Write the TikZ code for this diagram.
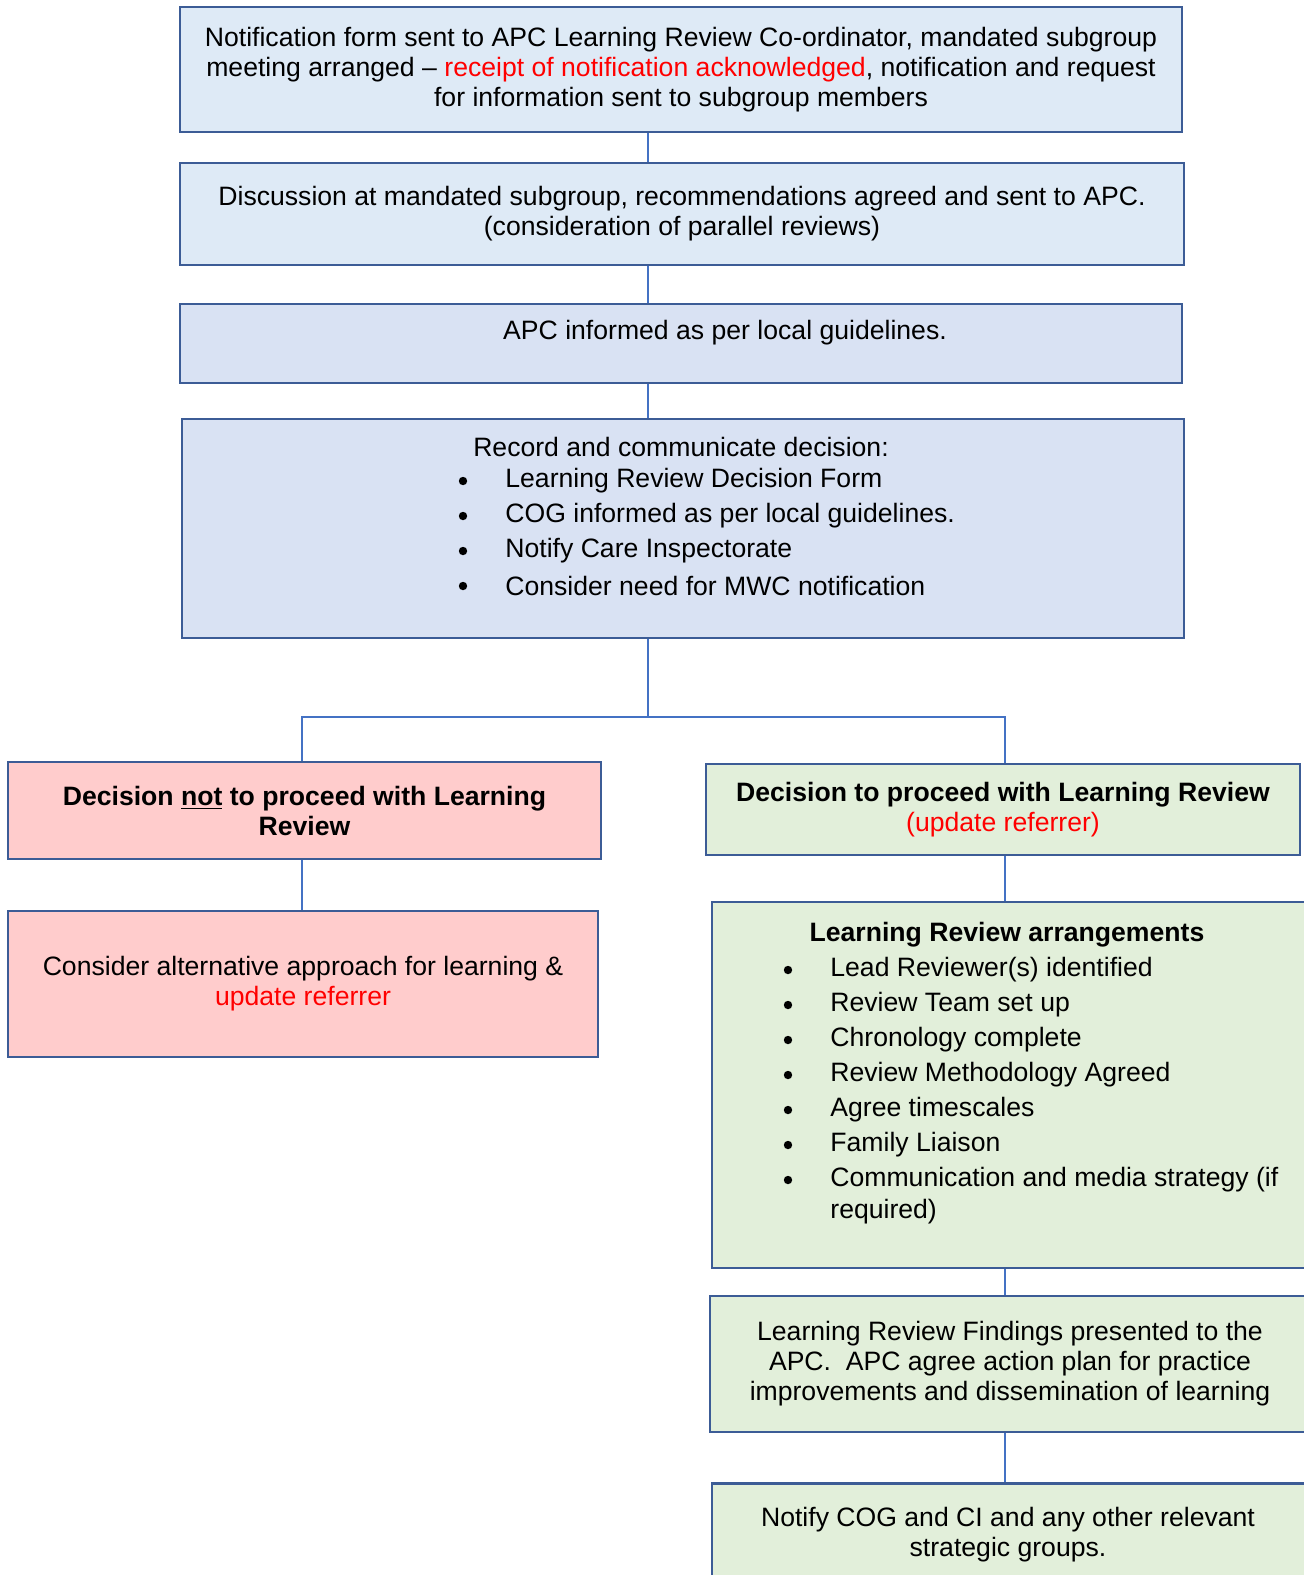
\documentclass[tikz,border=0pt]{standalone}
\usepackage{fontspec}
\setmainfont{Liberation Sans}
\usepackage{xcolor}
\usepackage{tikz}
\usetikzlibrary{positioning,calc}
\definecolor{boxline}{HTML}{3C5C96}
\definecolor{linkblue}{HTML}{4472C4}
\definecolor{paleblue}{HTML}{DEEAF6}
\definecolor{lavender}{HTML}{D9E2F3}
\definecolor{rose}{HTML}{FFCCCC}
\definecolor{palegreen}{HTML}{E2EFDA}
\definecolor{alert}{HTML}{FF0000}

\begin{document}
\begin{tikzpicture}[x=0.5pt,y=-0.5pt,font=\fontsize{13.3}{15}\selectfont,
  box/.style={draw=boxline,line width=1.4pt,rectangle,align=center,inner sep=0pt},
  item/.style={anchor=west,inner sep=0pt},
  dot/.style={circle,fill=black,inner sep=0pt,minimum size=4.2pt},
  joint/.style={draw=linkblue,line width=1.4pt}]
  \useasboundingbox (0,0) rectangle (1303,1575);
  % top column
  \node[box,fill=paleblue,minimum width=501pt,minimum height=62.5pt] (notif) at (681,69.5)
    {Notification form sent to APC Learning Review Co-ordinator, mandated subgroup\\
     meeting arranged – \textcolor{alert}{receipt of notification acknowledged}, notification and request\\
     for information sent to subgroup members};
  \node[box,fill=paleblue,minimum width=502pt,minimum height=51pt] (discuss) at (682,214)
    {Discussion at mandated subgroup, recommendations agreed and sent to APC.\\
     (consideration of parallel reviews)};
  \node[box,fill=lavender,minimum width=501pt,minimum height=39.5pt] (inform) at (681,343.5) {};
  \node (informtxt) at (725,333) {APC informed as per local guidelines.};
  \node[box,fill=lavender,minimum width=501pt,minimum height=109.5pt] (record) at (683,528.5) {};
  \node (recordtxt) at (681,447) {Record and communicate decision:};
  \foreach \y/\t [count=\i] in {481/Learning Review Decision Form,516/COG informed as per local guidelines.,
      551/Notify Care Inspectorate,586/Consider need for MWC notification}{
    \node[dot] (rdot\i) at (463,\y) {};
    \node[item] (ritem\i) at (505,\y) {\t};}
  % left branch
  \node[box,fill=rose,minimum width=296.5pt,minimum height=48.5pt,font=\fontsize{13.3}{15}\selectfont\bfseries] (stop) at (304.5,810.5)
    {Decision \underline{not} to proceed with Learning\\ Review};
  \node[box,fill=rose,minimum width=295pt,minimum height=73pt] (alt) at (303,984)
    {Consider alternative approach for learning \&\\ \textcolor{alert}{update referrer}};
  % right branch
  \node[box,fill=palegreen,minimum width=297pt,minimum height=45.5pt] (go) at (1003,809.5)
    {\textbf{Decision to proceed with Learning Review}\\ \textcolor{alert}{(update referrer)}};
  \node[box,fill=palegreen,minimum width=299pt,minimum height=183pt] (arrange) at (1011,1085) {};
  \node[font=\fontsize{13.3}{15}\selectfont\bfseries] (arrangetxt) at (1007,935) {Learning Review arrangements};
  \foreach \y/\t [count=\i] in {970/Lead Reviewer(s) identified,1005/Review Team set up,1040/Chronology complete,
      1075/Review Methodology Agreed,1110/Agree timescales,1145/Family Liaison,
      1180/Communication and media strategy (if}{
    \node[dot] (adot\i) at (788,\y) {};
    \node[item] (aitem\i) at (830,\y) {\t};}
  \node[item] (aitem8) at (830,1212) {required)};
  \node[box,fill=palegreen,minimum width=300pt,minimum height=68pt] (findings) at (1010,1364)
    {Learning Review Findings presented to the\\
     APC.\ \ APC agree action plan for practice\\
     improvements and dissemination of learning};
  \node[box,fill=palegreen,minimum width=299pt,minimum height=54pt,anchor=north] (notify) at (1011,1482) {};
  \node[align=center] (notifytxt) at (1008,1535) {Notify COG and CI and any other relevant\\ strategic groups.};
  % connectors
  \coordinate (spine) at (648,0);
  \coordinate (lspine) at (302,0);
  \coordinate (rspine) at (1005,0);
  \coordinate (fork) at (648,717);
  \draw[joint] (notif.south -| spine) -- (discuss.north -| spine);
  \draw[joint] (discuss.south -| spine) -- (inform.north -| spine);
  \draw[joint] (inform.south -| spine) -- (record.north -| spine);
  \draw[joint] (record.south -| spine) -- (fork);
  \draw[joint] (stop.north -| lspine) |- (fork) -| (go.north -| rspine);
  \draw[joint] (stop.south -| lspine) -- (alt.north -| lspine);
  \draw[joint] (go.south -| rspine) -- (arrange.north -| rspine);
  \draw[joint] (arrange.south -| rspine) -- (findings.north -| rspine);
  \draw[joint] (findings.south -| rspine) -- (notify.north -| rspine);
\end{tikzpicture}
\end{document}
